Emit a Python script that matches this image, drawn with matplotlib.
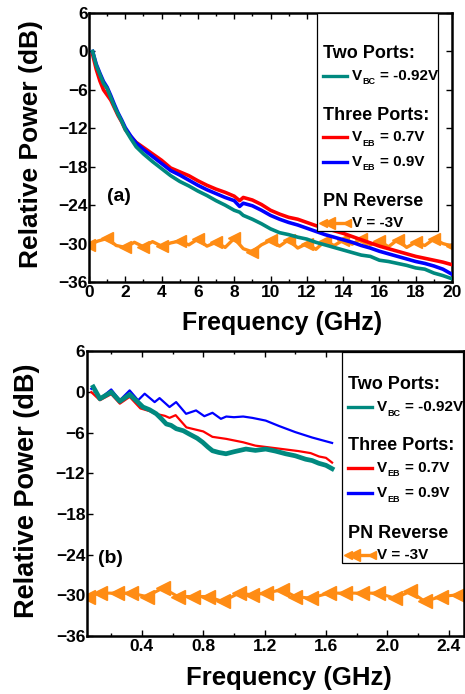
import numpy as np
import matplotlib
matplotlib.use("Agg")
import matplotlib.pyplot as plt
from matplotlib.lines import Line2D
from matplotlib.patches import Rectangle
from matplotlib.ticker import MultipleLocator

plt.rcParams['font.family'] = ['Liberation Sans', 'DejaVu Sans']
plt.rcParams['font.weight'] = 'bold'

TEAL = '#00897F'
RED = '#FF0000'
BLUE = '#0000FF'
ORANGE = '#FF8C14'

# ---- panel (a): 0-20 GHz ----
freq_a = [0.2, 0.4, 0.6, 0.8, 1.0, 1.2, 1.4, 1.6, 1.8, 2.0, 2.3, 2.6, 3.0, 3.5,
          4.0, 4.5, 5.0, 5.5, 6.0, 6.5, 7.0, 7.5, 8.0, 8.3, 8.5, 9.0, 9.5, 10.0,
          10.5, 11.0, 11.5, 12.0, 12.5, 13.0, 13.5, 14.0, 14.5, 15.0, 15.5, 16.0,
          16.5, 17.0, 17.5, 18.0, 18.5, 19.0, 19.5, 20.0]
two_port_a = [0.0, -2.2, -3.6, -5.0, -5.8, -7.2, -8.6, -9.8, -10.9, -12.2, -13.6,
              -14.9, -16.0, -17.2, -18.3, -19.4, -20.3, -21.0, -21.8, -22.5, -23.3,
              -24.0, -24.8, -25.1, -25.6, -26.2, -26.9, -27.7, -28.3, -28.6, -29.0,
              -29.3, -29.8, -30.2, -30.6, -31.0, -31.4, -31.8, -32.0, -32.6, -32.8,
              -33.1, -33.4, -33.8, -34.0, -34.6, -35.0, -35.5]
veb07_a = [-0.5, -2.8, -4.6, -6.0, -6.8, -7.6, -8.8, -10.0, -11.0, -12.2, -13.3,
           -14.2, -15.0, -16.0, -17.0, -18.2, -18.8, -19.4, -20.2, -20.9, -21.5,
           -22.0, -22.6, -23.3, -22.8, -23.2, -23.9, -24.8, -25.4, -25.9, -26.2,
           -26.7, -27.2, -27.6, -28.0, -28.4, -28.9, -29.4, -29.9, -30.4, -30.8,
           -31.2, -31.6, -32.0, -32.3, -32.6, -32.9, -33.3]
veb09_a = [0.0, -2.0, -3.4, -4.7, -5.6, -6.9, -8.3, -9.6, -10.7, -11.9, -13.2,
           -14.3, -15.3, -16.4, -17.5, -18.6, -19.3, -20.1, -20.9, -21.6, -22.2,
           -22.8, -23.3, -24.2, -23.7, -24.1, -24.8, -25.6, -26.2, -26.7, -27.1,
           -27.6, -28.1, -28.6, -29.0, -29.4, -29.8, -30.3, -30.7, -31.2, -31.6,
           -32.0, -32.4, -32.8, -33.1, -33.5, -34.0, -34.8]
pn_freq_a = [0.0, 0.5, 1.0, 1.5, 2.0, 2.5, 3.0, 3.5, 4.0, 4.5, 5.0, 5.5, 6.0, 6.5,
             7.0, 7.5, 8.0, 8.5, 9.0, 9.5, 10.0, 10.5, 11.0, 11.5, 12.0, 12.5,
             13.0, 13.5, 14.0, 14.5, 15.0, 15.5, 16.0, 16.5, 17.0, 17.5, 18.0,
             18.5, 19.0, 19.5, 20.0]
pn_a = [-30.2, -29.6, -29.2, -30.3, -30.6, -29.8, -30.5, -29.7, -30.4, -29.9,
        -29.6, -30.2, -29.3, -30.4, -29.8, -30.6, -29.2, -30.8, -31.3, -30.2,
        -29.5, -30.4, -29.4, -30.7, -30.0, -30.9, -29.6, -30.3, -29.5, -30.1,
        -29.3, -30.2, -29.6, -30.5, -29.4, -30.6, -29.8, -30.3, -29.3, -30.0,
        -30.4]

# ---- panel (b): low frequency ----
two_freq_b = [0.083, 0.126, 0.2, 0.256, 0.32, 0.375, 0.407, 0.45, 0.494, 0.53,
              0.559, 0.59, 0.624, 0.67, 0.71, 0.76, 0.796, 0.83, 0.86, 0.9,
              0.948, 1.0, 1.078, 1.14, 1.207, 1.27, 1.337, 1.4, 1.467, 1.51,
              1.553, 1.6, 1.64]
two_port_b = [0.76, -0.98, 0.0, -1.35, -0.35, -1.5, -2.2, -2.6, -3.2, -4.0, -4.7,
              -4.9, -5.4, -5.7, -6.2, -6.8, -7.4, -8.1, -8.65, -8.9, -9.1, -8.8,
              -8.4, -8.6, -8.4, -8.7, -9.1, -9.4, -9.9, -10.1, -10.5, -10.8, -11.3]
red_freq_b = [0.07, 0.126, 0.2, 0.256, 0.32, 0.39, 0.45, 0.49, 0.55, 0.58, 0.62,
              0.69, 0.8, 0.86, 0.95, 1.06, 1.14, 1.315, 1.42, 1.5, 1.555, 1.6, 1.64]
veb07_b = [0.0, -1.2, -0.3, -1.7, -0.7, -2.4, -2.8, -3.2, -3.5, -3.8, -3.4, -5.2,
           -5.8, -6.6, -6.9, -7.4, -7.9, -8.4, -8.7, -9.0, -9.5, -9.7, -10.4]
blue_freq_b = [0.07, 0.083, 0.126, 0.2, 0.256, 0.32, 0.375, 0.418, 0.483, 0.515,
               0.58, 0.623, 0.688, 0.753, 0.807, 0.86, 0.915, 0.95, 1.0, 1.06,
               1.12, 1.207, 1.294, 1.4, 1.51, 1.64]
veb09_b = [0.5, 0.76, -0.98, 0.4, -1.2, 0.26, -1.2, -0.23, -1.47, -0.88, -2.2,
           -1.47, -3.2, -2.7, -3.55, -3.05, -3.94, -3.6, -3.7, -3.6, -3.8, -4.2,
           -5.0, -5.9, -6.7, -7.5]
pn_freq_b = [0.05, 0.126, 0.235, 0.33, 0.43, 0.537, 0.634, 0.73, 0.83, 0.926,
             1.034, 1.12, 1.207, 1.315, 1.4, 1.5, 1.618, 1.726, 1.834, 1.94,
             2.05, 2.15, 2.245, 2.35, 2.46]
pn_b = [-30.17, -29.67, -29.67, -29.67, -30.17, -28.92, -30.17, -30.17, -30.17,
        -30.9, -29.67, -29.92, -29.67, -29.17, -30.17, -30.42, -29.67, -29.67,
        -29.67, -29.67, -30.42, -29.42, -30.9, -30.17, -29.92]

yticks = [-36, -30, -24, -18, -12, -6, 0, 6]

W, H = 465, 694
fig = plt.figure(figsize=(W / 100, H / 100), dpi=100)


def fx(px):
    return px / W


def fy(py):
    return 1 - py / H


def style_axes(ax):
    for s in ax.spines.values():
        s.set_linewidth(1.8)
    ax.set_yticks(yticks)
    ax.set_ylim(-36, 6)
    ax.tick_params(which='both', direction='in', top=True, right=True,
                   labelsize=12.5, width=1.0)
    ax.tick_params(which='major', length=4)
    ax.tick_params(which='minor', length=2.5)
    ax.tick_params(axis='y', pad=1)
    ax.tick_params(axis='x', pad=2)
    for lab in ax.get_xticklabels() + ax.get_yticklabels():
        lab.set_fontweight('bold')


def draw_legend(x0, y0, x1, y1, rows):
    fig.add_artist(Rectangle((fx(x0), fy(y1)), fx(x1) - fx(x0), fy(y0) - fy(y1),
                             transform=fig.transFigure, facecolor='white',
                             edgecolor='black', linewidth=0.9, zorder=5))
    hx0 = x0 + 6
    for kind, py, txt, sty in rows:
        if kind == 'head':
            fig.text(fx(hx0), fy(py), txt, fontsize=13, fontweight='bold',
                     va='center', ha='left', zorder=6)
            continue
        fig.add_artist(Line2D([fx(hx0), fx(hx0 + 24)], [fy(py), fy(py)],
                              transform=fig.transFigure, zorder=6, **sty))
        if sty.get('marker'):
            fig.add_artist(Line2D([fx(hx0 + 6)], [fy(py)],
                                  transform=fig.transFigure, zorder=6,
                                  linestyle='none', marker='<',
                                  markersize=9, color=sty['color']))
        main, sub, rest = txt
        tx = hx0 + 29
        if sub:
            fig.text(fx(tx), fy(py), main, fontsize=11, fontweight='bold',
                     va='center', ha='left', zorder=6)
            fig.text(fx(tx + 10), fy(py + 6), sub, fontsize=6.5, fontweight='bold',
                     va='center', ha='left', zorder=6)
            fig.text(fx(tx + 28), fy(py), rest, fontsize=11, fontweight='bold',
                     va='center', ha='left', zorder=6)
        else:
            fig.text(fx(tx), fy(py), main + rest, fontsize=11, fontweight='bold',
                     va='center', ha='left', zorder=6)


# panel (a)
ax1 = fig.add_axes([fx(89), fy(282), fx(452) - fx(89), fy(13) - fy(282)])
ax1.plot(pn_freq_a, pn_a, color=ORANGE, lw=2.4, marker='<', markersize=9,
         markevery=2, zorder=2)
ax1.plot(freq_a, veb07_a, color=RED, lw=2.6, zorder=3)
ax1.plot(freq_a, veb09_a, color=BLUE, lw=2.6, zorder=3)
ax1.plot(freq_a, two_port_a, color=TEAL, lw=2.6, zorder=4)
ax1.set_xlim(0, 20)
ax1.set_xticks(range(0, 21, 2))
ax1.xaxis.set_minor_locator(MultipleLocator(1))
style_axes(ax1)
ax1.text(1.65, -22.6, '(a)', fontsize=14, fontweight='bold', ha='center', va='center')

# panel (b)
ax2 = fig.add_axes([fx(86.7), fy(636), fx(464) - fx(86.7), fy(351.5) - fy(636)])
ax2.plot(pn_freq_b, pn_b, color=ORANGE, lw=2.2, marker='<', markersize=10, zorder=2)
ax2.plot(red_freq_b, veb07_b, color=RED, lw=1.6, zorder=3)
ax2.plot(blue_freq_b, veb09_b, color=BLUE, lw=1.6, zorder=3)
ax2.plot(two_freq_b, two_port_b, color=TEAL, lw=3.4, zorder=4)
ax2.set_xlim(0.04, 2.5)
ax2.set_xticks([0.4, 0.8, 1.2, 1.6, 2.0, 2.4])
ax2.set_xticklabels(['0.4', '0.8', '1.2', '1.6', '2.0', '2.4'])
ax2.xaxis.set_minor_locator(MultipleLocator(0.2))
style_axes(ax2)
ax2.text(0.198, -24.6, '(b)', fontsize=14, fontweight='bold', ha='center', va='center')

# axis titles
fig.text(fx(31), fy(144), 'Relative Power (dB)', rotation=90, fontsize=19,
         fontweight='bold', ha='center', va='center')
fig.text(fx(282.5), fy(323), 'Frequency (GHz)', fontsize=18,
         fontweight='bold', ha='center', va='center')
fig.text(fx(27.5), fy(491), 'Relative Power (dB)', rotation=90, fontsize=19.5,
         fontweight='bold', ha='center', va='center')
fig.text(fx(289), fy(678), 'Frequency (GHz)', fontsize=18.5,
         fontweight='bold', ha='center', va='center')

line_teal = dict(color=TEAL, lw=2.4)
line_red = dict(color=RED, lw=2.4)
line_blue = dict(color=BLUE, lw=2.4)
line_orange = dict(color=ORANGE, lw=2.4, marker='<')

draw_legend(317, 13, 438, 231, [
    ('head', 53, 'Two Ports:', None),
    ('line', 76, ('V', 'BC', '= -0.92V'), line_teal),
    ('head', 115, 'Three Ports:', None),
    ('line', 137, ('V', 'EB', '= 0.7V'), line_red),
    ('line', 162, ('V', 'EB', '= 0.9V'), line_blue),
    ('head', 202, 'PN Reverse', None),
    ('line', 223, ('V = -3V', '', ''), line_orange),
])
draw_legend(342, 352, 463, 563, [
    ('head', 384, 'Two Ports:', None),
    ('line', 407, ('V', 'BC', '= -0.92V'), line_teal),
    ('head', 446, 'Three Ports:', None),
    ('line', 468, ('V', 'EB', '= 0.7V'), line_red),
    ('line', 493, ('V', 'EB', '= 0.9V'), line_blue),
    ('head', 533, 'PN Reverse', None),
    ('line', 555, ('V = -3V', '', ''), line_orange),
])

fig.savefig('out.png', dpi=100)
